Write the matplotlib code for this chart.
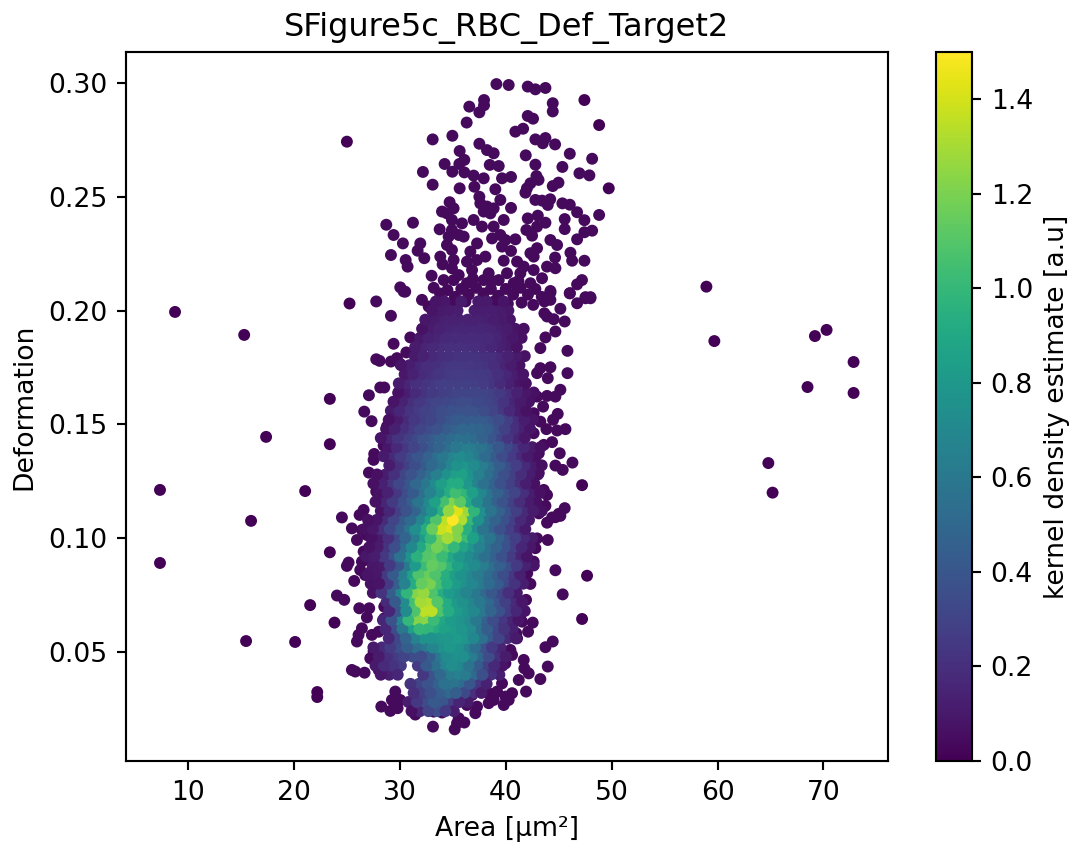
import numpy as np
import matplotlib
matplotlib.use("Agg")
import matplotlib.pyplot as plt

title = "SFigure5c_RBC_Def_Target2"
x_label = "Area [µm²]"
y_label = "Deformation"
cbar_label = "kernel density estimate [a.u]"

far_points = [
 (8.77,.1994),(15.3,.1893),(7.35,.1212),(7.35,.0891),(15.95,.1076),(17.37,.1445),(21.06,.1207),
 (15.48,.0548),(20.11,.0544),(22.2,.0324),(22.2,.0302),(21.53,.0706),(58.95,.2105),(59.7,.1866),
 (70.3,.1915),(69.2,.1888),(72.85,.1774),(72.85,.1638),(68.5,.1664),(64.8,.1330),(65.2,.1200),
 (25,.2742),(25.25,.2031),(23.39,.1612),(23.39,.1413),(23.39,.0938),(23.83,.0629),(47.21,.0645),
 (47.68,.0835),(47.21,.1233),(49.73,.2537),(48.82,.2815),(47.43,.2925),
]
top_points = [
 (39.12,.2995),(40.28,.2991),(42.08,.2984),(42.80,.2972),(43.75,.2978),(37.95,.2925),(37.95,.2902),
 (36.56,.2896),(37.51,.2871),(44.44,.2911),(44.44,.2875),(42.08,.2855),(42.58,.2843),(36.31,.2826),
 (40.91,.2786),(41.64,.2799),(34.96,.2768),(33.10,.2752),(42.80,.2752),(43.75,.2758),(43.5,.2735),
 (44.66,.2730),(37.51,.2733),(38.23,.2705),(38.86,.2691),(35.65,.2701),(46.05,.2689),(41.89,.2682),
 (48.16,.2667),(36.09,.2662),(35.62,.2644),(34.23,.2644),(38.49,.2640),(39.34,.2635),(42.80,.2641),
 (45.35,.2631),(32.18,.2609),(34.96,.2610),(36.09,.2607),(46.96,.2603),(47.9,.2594),(36.97,.2593),
 (37.92,.2581),(40.50,.2587),(39.65,.2581),(42.9,.2591),(43.1,.2574),(42.33,.2559),(42.0,.2537),
 (41.86,.2518),(33.1,.2553),(44.98,.2562),(44.44,.2547),(35.65,.2537),(37.04,.2544),(39.02,.2533),
 (37.51,.2500),(39.49,.2486),(42.8,.2486),(43.43,.2483),(44.2,.2489),(43.97,.2464),(45.35,.2471),
 (46.05,.2465),(34.7,.2476),(35.08,.2449),(33.98,.2435),(40.5,.2451),(37.6,.2471),(38.23,.2457),
 (38.86,.2449),(37.92,.2435),(38.55,.2427),(46.74,.2432),(48.82,.2420),(47.43,.2397),(45.57,.2402),
 (45.57,.2358),(43.03,.2417),(42.08,.2405),(43.75,.2386),(42.96,.2369),(41.95,.2354),(42.49,.2329),
 (48.16,.2351),(47.43,.2344),(28.72,.2377),(31.24,.2386),(29.41,.2332),(30.29,.2295),(31.93,.2295),
 (31.68,.2263),(29.16,.2244),(33.76,.2357),(32.31,.2230),(30.55,.2222),(30.73,.2193),(33.82,.2237),
 (34.04,.2203),(33.0,.2153),(30.04,.2102),(30.51,.2083),(46.74,.2313),(44.22,.2310),(42.96,.2274),
 (44.85,.2288),(46.11,.2254),(46.27,.2219),(47.43,.2219),(44.66,.2233),(43.9,.2193),(44.69,.2186),
 (47.2,.2134),(46.74,.2115),(46.05,.2076),(44.22,.2086),(47.53,.2054),(48.0,.2054),
 (34.45,.2427),(34.92,.2398),(35.87,.2383),(34.92,.2354),(35.56,.2332),(34.61,.2325),(36.03,.2325),
 (34.45,.2288),(34.92,.2266),(37.29,.2295),(36.66,.2259),(36.34,.2215),(37.29,.2222),(38.08,.2237),
 (35.08,.2222),(34.92,.2186),(36.82,.2178),(38.39,.2164),(35.56,.2156),(36.97,.2398),(37.76,.2369),
 (38.86,.2369),(39.81,.2398),(38.71,.2317),(39.49,.2332),(39.97,.2310),(40.91,.2313),(39.65,.2281),
 (40.5,.2262),(39.81,.2219),(41.07,.2215),(41.7,.2193),(42.64,.2237),(42.33,.2252),(40.12,.2164),
 (41.38,.2164),(42.64,.2178),(43.43,.2142),(42.33,.2120),(40.75,.2120),(39.34,.2134),(37.92,.2134),
 (34.14,.2134),(35.08,.2134),(36.34,.2120),
 (33.2,.2100),(33.8,.2075),(34.5,.2090),(35.2,.2060),(35.8,.2095),(36.5,.2070),(37.2,.2100),
 (37.9,.2075),(38.6,.2095),(39.3,.2065),(40,.2095),(40.7,.2070),(41.4,.2100),(42.1,.2070),
 (42.8,.2095),(43.4,.2060),(33.6,.2035),(34.9,.2030),(36.2,.2040),(37.6,.2030),(38.9,.2040),
 (40.2,.2030),(41.5,.2035),(42.6,.2025),(36.9,.2140),(38.7,.2130),(41.2,.2130),
]
left_points = [
 (32.09,.2047),(32.72,.2018),(33.19,.1967),(32.4,.1930),(30.99,.1882),(31.62,.1864),(29.41,.1854),
 (27.77,.2040),(29.16,.1977),(30.36,.2084),
 (27.77,.1786),(28.09,.1779),(29.16,.1776),(29.73,.1791),(30.61,.1816),(30.04,.1766),(31.6,.1820),
 (30.04,.1674),(28.15,.1662),(28.53,.1662),(29.88,.1637),(27.08,.1628),(29.73,.1581),(26.64,.1556),
 (30.04,.1542),(27.33,.1514),(28.78,.1491),(29.1,.1461),(28.47,.1407),(27.58,.1370),(27.52,.1344),
 (27.08,.1288),(27.84,.1241),(27.77,.1205),(27.84,.1165),(26.58,.1124),(26.2,.1102),(24.53,.1091),
 (25.47,.1043),(26.42,.1036),(25.95,.0992),(26.89,.1014),(26.58,.0941),(27.21,.0941),(28.0,.0926),
 (25.16,.0893),(25,.0878),(26.42,.0897),(27.05,.0904),(27.68,.0890),(26.26,.0860),(26.73,.0838),
 (27.36,.0860),(28.47,.0860),(28,.0802),(25.69,.0812),(28.47,.0765),(28.53,.0699),(28.53,.0648),
 (24.06,.0748),(24.75,.0729),(26.17,.0692),(27.11,.0692),(26.89,.0652),(26.42,.0604),(26.1,.0575),
 (25.95,.0546),(27.36,.0575),(28,.0589),(27.52,.0502),(27.21,.0472),(25.47,.0421),(25.79,.0414),
 (26.67,.0409),(28,.0421),
]
right_points = [
 (46.05,.2076),(46.74,.2032),(47.53,.2059),(48.0,.2059),(44.22,.2079),(45.16,.2008),(43.65,.2040),
 (44.22,.2047),(43.65,.1988),(43.9,.1974),(44.53,.1962),(45.57,.1952),(44.69,.1908),(43.75,.1882),
 (43.27,.1835),(45.83,.1823),(44.22,.1751),(43.27,.1747),(42.96,.1725),(43.97,.1703),(45.83,.1725),
 (45.16,.1652),(44.69,.1622),(43.9,.1625),(42.96,.1622),(43.53,.1578),(44.91,.1546),(44.47,.1520),
 (42.64,.1549),(43.27,.1512),(43.84,.1479),(44.85,.1473),(45.64,.1479),(42.64,.1461),(44.38,.1422),
 (43.59,.1410),(45.1,.1373),(43.12,.1373),(44.69,.1319),(46.3,.1332),(45.38,.1300),(43.12,.1286),
 (43.59,.1212),(43.9,.1190),(43.75,.1142),(45.57,.1132),(45.01,.1107),(44.38,.1091),(43.9,.1068),
 (44.69,.1092),(45.16,.1098),(43.12,.1109),(42.96,.0999),(43.97,.0992),(42.8,.0956),(44.69,.0859),
 (42.64,.0897),(42.03,.0846),(42.33,.0799),(41.38,.0809),(45.38,.0753),(41.92,.0729),(41.38,.0663),
 (41.54,.0633),(42.55,.0629),(42.11,.0589),(44.44,.0546),(43.75,.0521),(43.27,.0381),(43.97,.0436),
]
bottom_points = [
 (29.57,.0326),(29.25,.0289),(28.25,.0260),(29.1,.0241),(29.79,.0253),(30.04,.0289),(31.46,.0225),
 (33.19,.0238),(33.98,.0234),(33.13,.0172),(35.18,.0160),(35.56,.0209),(36.09,.0190),(35.4,.0187),
 (37.13,.0231),(37.29,.0260),(36.34,.0267),(35.56,.0297),(34.61,.0275),(33.82,.0277),(36.82,.0311),
 (37.92,.0348),(38.39,.0319),(38.86,.0289),(38.39,.0275),(39.18,.0326),(39.65,.0362),(39.81,.0267),
 (40.28,.0289),(40.6,.0319),(39.97,.0304),(41.92,.0326),(41.23,.0377),(42.17,.0406),(41.7,.0465),
 (41.76,.0428),(39.97,.0450),(40.6,.0487),(41.07,.0560),(41,.0582),(40.44,.0509),
]

far_density = 0.01
edge_density = 0.04

core_area = [27.0,27.8,28.6,29.4,30.2,31.0,31.8,32.6,33.4,34.2,35.0,35.8,36.6,37.4,38.2,39.0,39.8,40.6,41.4,42.2,43.0]
core_deform = [.204,.200,.196,.192,.188,.184,.180,.176,.172,.168,.164,.160,.156,.152,.148,.144,.140,.136,.132,.128,.124,.120,
               .116,.112,.108,.104,.100,.096,.092,.088,.084,.080,.076,.072,.068,.064,.060,.056,.052,.048,.044,.040,.036,.032,.028,.024]
# per-row sideways offset of the hand-read cells, in area units
core_row_offset = [0,.45,-.2,.3,.1,-.35,.4,-.1,.25,-.3,.45,0,-.25,.35,.1,-.4,.3,-.15,.4,.05,-.3,.25,
                   -.1,.4,0,-.35,.3,.1,-.2,.45,-.05,.25,-.35,.15,.4,-.2,.05,.35,-.3,.2,-.1,.4,0,.3,-.2,.1]
# density in hundredths, one row per core_deform entry, 0 = no point
core_density = [
 [0,0,0,0,0,0,0,0,8,9,0,10,0,10,10,0,8,0,0,0,0],
 [0,0,0,0,0,0,0,8,10,11,12,0,12,12,12,11,9,0,0,0,0],
 [0,0,0,0,0,0,0,9,11,13,14,14,14,14,13,12,10,8,0,0,0],
 [0,0,0,0,0,0,7,11,14,15,16,16,16,16,15,13,11,8,6,0,0],
 [0,0,0,0,0,0,9,13,15,17,18,18,18,18,17,15,12,9,6,0,0],
 [0,0,0,0,0,0,11,15,17,19,20,20,20,19,18,16,13,10,7,0,0],
 [0,0,0,0,0,10,14,17,19,21,22,22,22,21,20,17,14,10,7,0,0],
 [0,0,0,0,8,12,16,19,21,23,24,24,24,23,22,19,15,11,7,0,0],
 [0,0,0,0,9,14,18,21,23,25,26,26,26,25,24,21,16,12,8,0,0],
 [0,0,0,0,11,16,20,23,25,27,28,28,28,27,26,23,18,13,8,6,0],
 [0,0,0,7,12,18,22,25,27,29,30,31,31,30,29,25,20,14,9,6,0],
 [0,0,0,8,14,20,24,27,30,32,33,34,34,33,31,28,22,15,10,7,0],
 [0,0,0,10,16,22,26,29,32,35,37,38,38,38,35,30,24,17,11,7,0],
 [0,0,6,11,18,24,28,31,35,39,42,43,43,43,39,34,27,19,12,8,0],
 [0,0,7,13,20,26,30,34,38,43,47,49,49,48,44,37,29,21,14,8,0],
 [0,0,8,15,22,28,33,38,43,48,52,56,55,52,47,39,31,23,15,9,0],
 [0,0,9,17,24,30,36,42,48,54,60,64,62,57,50,41,33,25,16,10,6],
 [0,0,10,18,26,33,39,46,53,60,68,72,68,61,52,43,34,26,17,10,6],
 [0,0,11,20,28,35,42,50,58,68,76,78,72,63,54,44,35,27,18,11,6],
 [0,6,12,21,30,38,46,55,65,76,84,85,76,65,55,45,36,28,19,12,6],
 [0,6,13,23,32,40,50,60,72,84,92,92,80,67,56,46,37,29,20,12,6],
 [0,7,14,24,34,42,54,66,78,92,104,98,84,70,58,47,38,30,20,12,6],
 [0,7,15,25,36,45,58,70,85,105,122,112,90,72,58,47,38,29,19,11,6],
 [0,7,16,27,38,48,62,76,95,125,142,128,98,74,58,47,37,28,18,11,6],
 [6,8,18,30,42,52,68,84,108,135,150,132,100,76,58,47,37,27,17,10,0],
 [6,9,20,32,44,58,74,92,115,138,142,122,95,74,58,47,37,27,17,10,0],
 [6,10,20,33,48,64,82,100,120,130,122,102,86,70,58,47,37,27,17,10,0],
 [7,11,22,36,52,70,90,108,118,112,100,88,78,66,56,47,37,27,16,9,0],
 [9,12,24,38,56,76,96,110,112,102,90,80,72,64,55,46,37,26,15,8,0],
 [9,10,25,40,60,82,102,114,110,98,86,78,71,63,54,45,36,25,14,8,0],
 [8,9,25,42,64,86,108,116,108,94,84,76,70,62,53,45,35,24,13,0,0],
 [7,8,25,44,66,92,114,120,106,92,82,75,69,61,52,43,33,22,12,0,0],
 [0,7,22,44,70,98,122,126,108,92,82,75,68,60,50,41,31,20,10,0,0],
 [0,0,18,42,72,105,130,132,110,92,82,75,68,60,50,39,28,18,9,0,0],
 [0,0,16,40,72,108,135,135,108,92,82,76,70,60,48,37,26,16,8,0,0],
 [0,0,16,38,68,100,122,124,102,90,82,77,71,60,46,34,24,15,8,0,0],
 [0,0,16,34,60,86,100,98,92,86,83,78,71,58,44,32,22,13,0,0,0],
 [0,0,16,32,48,66,76,76,78,80,82,78,70,56,42,30,18,10,0,0,0],
 [0,10,18,26,36,44,54,60,68,76,80,76,67,53,38,25,15,0,0,0,0],
 [0,11,20,26,30,34,34,44,60,72,76,74,63,49,34,21,11,0,0,0,0],
 [0,10,18,22,26,0,26,42,55,68,73,70,58,43,29,17,8,0,0,0,0],
 [0,9,13,16,0,0,24,38,50,62,66,62,50,36,21,12,0,0,0,0,0],
 [0,0,0,0,0,22,30,38,47,56,58,52,40,24,14,0,0,0,0,0,0],
 [0,0,0,0,0,20,28,36,44,50,44,33,20,10,0,0,0,0,0,0,0],
 [0,0,0,0,0,12,24,34,42,40,28,15,10,0,0,0,0,0,0,0,0],
 [0,0,0,0,0,6,15,30,36,25,12,0,0,0,0,0,0,0,0,0,0],
]

xs, ys, cs = [], [], []
for group, d in ((far_points, far_density), (top_points, edge_density),
                 (left_points, edge_density), (right_points, edge_density),
                 (bottom_points, edge_density)):
    for a, b in group:
        xs.append(a); ys.append(b); cs.append(d)

# core cells, drawn in a mixed order so that no row lies wholly on top of its neighbour
cells = []
for i, (row_y, row, shift) in enumerate(zip(core_deform, core_density, core_row_offset)):
    for j, (a, v) in enumerate(zip(core_area, row)):
        if v > 0:
            cells.append(((i * 37 + j * 61) % 101, a + shift, row_y, v / 100))
for _, a, b, v in sorted(cells):
    xs.append(a); ys.append(b); cs.append(v)

W, H = 1073, 850
dpi = 192
fig = plt.figure(figsize=(W / dpi, H / dpi), dpi=dpi)
ax = fig.add_axes([126 / W, 1 - 761 / H, 762 / W, 709 / H])
cax = fig.add_axes([936 / W, 1 - 761 / H, 36 / W, 709 / H])

sc = ax.scatter(xs, ys, c=cs, s=20, cmap="viridis", vmin=0, vmax=1.5, linewidths=0)
ax.set_xlim(4.14, 76.1)
ax.set_ylim(0.0021, 0.3136)
ax.set_xticks([10, 20, 30, 40, 50, 60, 70])
ax.set_yticks([0.05, 0.10, 0.15, 0.20, 0.25, 0.30])
ax.set_yticklabels(["0.05", "0.10", "0.15", "0.20", "0.25", "0.30"])
ax.set_xlabel(x_label)
ax.set_ylabel(y_label)
ax.set_title(title)
cb = fig.colorbar(sc, cax=cax)
cb.set_label(cbar_label)
cb.set_ticks([0, 0.2, 0.4, 0.6, 0.8, 1.0, 1.2, 1.4])
fig.savefig("out.png", dpi=dpi)
